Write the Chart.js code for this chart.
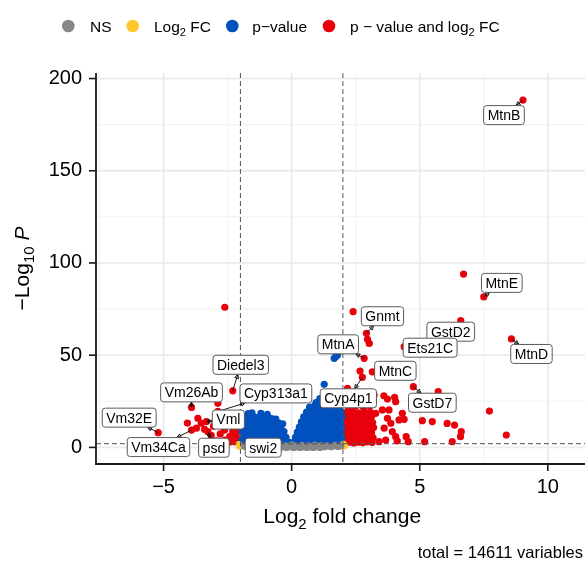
<!DOCTYPE html>
<html>
<head>
<meta charset="utf-8">
<script src="https://cdn.jsdelivr.net/npm/chart.js@4.4.0/dist/chart.umd.min.js"></script>
<style>
html, body { margin: 0; padding: 0; background: #fff; overflow: hidden; }
body { width: 585px; height: 561px; position: relative; }
#chart { position: absolute; left: 0; top: 0; }
</style>
</head>
<body>
<canvas id="chart" width="592" height="561"></canvas>
<script>
// axis ticks and cutoffs
var xTicks = [-5, 0, 5, 10];
var yTicks = [0, 50, 100, 150, 200];
var xMinor = [-7.5, -2.5, 2.5, 7.5];
var yMinor = [25, 75, 125, 175];
var fcCutoff = 2;
var pCutoff = 2;
var totalVariables = 14611;

// NS (grey)
var nsPoints = [
    [-1.85,0.6],[-1.7,1.2],[-1.55,0.4],[-1.4,1.0],[-1.25,0.5],[-1.1,1.3],[-0.95,0.3],[-0.8,0.9],
    [-0.65,0.4],[-0.5,1.1],[-0.38,0.2],[-0.25,0.8],[-0.12,0.3],[0,1.4],[0.05,0.1],[0.15,0.7],
    [0.28,0.2],[0.4,1.1],[0.52,0.4],[0.65,0.9],[0.78,0.2],[0.9,1.2],[1.02,0.5],[1.15,1.0],
    [1.28,0.3],[1.4,0.8],[1.55,0.4],[1.68,1.1],[1.8,0.5],[1.92,0.9],
    [-0.2,0],[0.1,0],[0.35,0],[0.6,0],[0.85,0],[1.1,0],[-0.6,0],[-1.0,0]
];

// Log2 FC only (yellow)
var fcPoints = [[-2.06,1.5],[-2.03,0.6],[2.02,1.6],[2.06,0.7]];

// p-value only (blue)
var pPoints = [
    [-1.92,2.8],[-1.75,3.1],[-1.58,2.6],[-1.41,3.0],[-1.24,2.7],[-1.07,3.2],[-0.9,2.6],[-0.73,3.0],[-0.56,2.7],[-0.4,3.1],[-0.25,2.6],[-0.12,2.9],
    [-1.9,5.6],[-1.72,5.3],[-1.55,5.8],[-1.38,5.4],[-1.2,5.7],[-1.03,5.3],[-0.86,5.8],[-0.69,5.4],[-0.52,5.7],[-0.36,5.2],[-0.22,5.5],
    [-1.93,8.4],[-1.76,8.1],[-1.6,8.6],[-1.43,8.2],[-1.26,8.5],[-1.09,8.0],[-0.92,8.4],[-0.75,8.1],[-0.58,8.5],[-0.42,8.0],[-0.3,8.6],
    [-1.9,11.1],[-1.73,10.8],[-1.56,11.3],[-1.39,10.9],[-1.22,11.2],[-1.05,10.7],[-0.88,11.1],[-0.71,10.8],[-0.55,11.2],[-0.42,10.6],
    [-1.88,13.9],[-1.7,13.6],[-1.53,14.1],[-1.36,13.7],[-1.19,14.0],[-1.02,13.5],[-0.85,13.9],[-0.68,13.4],[-0.5,13.2],
    [-1.82,16.4],[-1.64,16.1],[-1.47,16.6],[-1.3,16.2],[-1.12,16.5],[-0.95,15.9],[-0.78,15.6],
    [-1.7,18.3],[-1.55,18.8],[-1.2,18.4],[-0.95,17.9],[-0.62,15.4],[-0.35,12.8],[-1.97,3.1],
    [0.08,2.8],[0.25,3.1],[0.42,2.7],[0.59,3.0],[0.76,2.6],[0.93,3.1],[1.1,2.7],[1.27,3.0],[1.44,2.6],[1.61,3.1],[1.78,2.7],[1.95,3.0],
    [0.15,5.5],[0.32,5.8],[0.49,5.3],[0.66,5.7],[0.83,5.4],[1.0,5.8],[1.17,5.3],[1.34,5.6],[1.51,5.4],[1.68,5.8],[1.85,5.3],[1.96,5.6],
    [0.22,8.3],[0.39,8.0],[0.56,8.5],[0.73,8.1],[0.9,8.4],[1.07,8.0],[1.24,8.5],[1.41,8.2],[1.58,8.6],[1.75,8.1],[1.92,8.4],
    [0.3,11.0],[0.47,11.3],[0.64,10.8],[0.81,11.2],[0.98,10.9],[1.15,11.3],[1.32,10.8],[1.49,11.1],[1.66,10.7],[1.83,11.2],[1.95,10.9],
    [0.38,13.8],[0.55,13.5],[0.72,14.0],[0.89,13.6],[1.06,13.9],[1.23,13.5],[1.4,14.0],[1.57,13.7],[1.74,14.1],[1.91,13.6],
    [0.47,16.5],[0.64,16.2],[0.81,16.7],[0.98,16.3],[1.15,16.6],[1.32,16.1],[1.49,16.5],[1.66,16.2],[1.83,16.7],[1.96,16.3],
    [0.58,19.2],[0.75,18.9],[0.92,19.4],[1.09,19.0],[1.26,19.3],[1.43,18.9],[1.6,19.4],[1.77,19.0],[1.94,19.3],
    [0.7,21.9],[0.87,22.2],[1.04,21.7],[1.21,22.1],[1.38,21.8],[1.55,22.3],[1.72,21.9],[1.89,22.2],
    [0.95,24.3],[1.15,24.8],[1.35,24.4],[1.55,25.0],[1.75,24.6],[1.93,25.2],
    [1.1,26.4],[1.5,27.0],[1.85,28.4],[1.27,34.2],[1.66,48.3],[1.72,49.2],[1.79,50.1]
];

// p-value and log2 FC (red)
var bothPoints = [
    // left side
    [-5.21,8.0],[-3.91,21.7],[-4.07,13.2],[-3.66,15.8],[-3.53,13.1],[-3.72,10.4],[-3.91,9.4],[-3.4,9.8],
    [-3.33,14.0],[-3.27,8.5],[-3.14,6.6],[-2.88,19.5],[-2.88,23.9],[-2.94,16.5],[-2.79,7.3],[-2.62,9.4],
    [-2.55,12.1],[-2.49,16.6],[-2.42,13.9],[-2.42,5.8],[-2.3,11.2],[-2.3,8.5],[-2.19,8.5],[-2.16,5.8],
    [-2.16,11.2],[-2.23,14.8],[-2.1,3.2],[-2.25,3.0],[-2.45,2.6],[-2.6,4.0],[-2.7,2.8],[-2.95,3.5],
    [-2.08,17.0],[-2.3,30.7],[-2.61,76.0],[-3.05,11.5],[-2.68,14.8],
    // right side, dense part
    [2.08,2.5],[2.25,2.9],[2.42,2.4],[2.6,2.8],[2.78,2.5],[2.96,3.0],[3.14,2.6],
    [2.1,5.2],[2.28,5.6],[2.46,5.0],[2.64,5.5],[2.82,5.1],[3.0,5.6],[3.18,5.2],
    [2.05,8.0],[2.22,8.4],[2.4,7.8],[2.58,8.3],[2.76,7.9],[2.94,8.5],[3.12,8.0],
    [2.12,10.8],[2.3,11.2],[2.48,10.6],[2.66,11.1],[2.84,10.7],[3.02,11.3],[3.2,10.8],
    [2.06,13.5],[2.24,13.9],[2.42,13.3],[2.6,13.8],[2.78,13.4],[2.96,13.9],[3.16,13.5],
    [2.1,16.3],[2.3,16.7],[2.5,16.1],[2.72,16.6],[2.92,16.2],[3.12,16.8],
    [2.15,19.0],[2.38,19.4],[2.6,18.8],[2.85,19.3],[3.08,18.9],
    [2.2,22.0],[2.5,22.4],[2.8,21.8],[3.05,22.3],
    // right side, scattered
    [3.28,18.5],[3.54,20.3],[3.8,20.3],[3.74,15.8],[3.87,13.1],[3.61,10.4],[3.93,8.5],[4.06,5.8],
    [3.67,4.0],[3.41,3.1],[4.19,14.9],[4.47,5.8],[4.55,3.1],[3.74,26.2],[4.06,24.8],[4.32,18.5],
    [4.39,15.2],[5.1,14.5],[5.49,14.0],[6.07,13.0],[6.36,12.1],[6.62,8.5],
    [6.59,5.8],[6.27,3.1],[5.19,3.1],[4.12,3.5],[3.6,28.0],
    [4.02,27.2],[3.22,28.4],[4.75,32.9],[5.72,30.2],[7.72,19.7],[8.38,6.7],[2.18,32.0],[2.67,41.4],
    [2.76,38.0],[3.15,41.0],[2.92,61.9],[2.96,58.6],[3.03,56.4],[2.83,48.3],[2.4,73.6],[4.39,54.6],
    [6.6,68.7],[6.71,94.0],[7.5,81.6],[8.58,58.8],[9.03,188.3]
];

// labelled genes
var labelNames = ['MtnB','MtnE','MtnD','GstD2','Ets21C','Gnmt','MtnA','MtnC','Cyp4p1','GstD7',
                  'Diedel3','Cyp313a1','Vm26Ab','Vm32E','Vml','Vm34Ca','psd','swi2'];
var labelX = [9.03, 7.5, 8.58, 6.6, 4.39, 2.92, 2.83, 3.15, 2.76, 4.75,
              -2.3, -2.88, -3.91, -5.21, -3.33, -3.91, -3.27, -1.97];
var labelY = [188.3, 81.6, 58.8, 68.7, 54.6, 61.9, 48.3, 41.0, 38.0, 32.9,
              30.7, 19.5, 21.7, 8.0, 14.0, 9.4, 8.5, 3.1];

// where the boxes sit relative to their point (px)
var labelNudge = {
    MtnB: [-19, 15], MtnE: [18, -14], MtnD: [20, 15], GstD2: [-10, 11], Ets21C: [26, 1],
    Gnmt: [16, -17], MtnA: [-26, -14], MtnC: [23, -1], Cyp4p1: [-14, 21], GstD7: [19, 16],
    Diedel3: [8, -26], Cyp313a1: [58, -18], Vm26Ab: [0, -15], Vm32E: [-29, -15], Vml: [22, -2],
    Vm34Ca: [-33, 17], psd: [6, 16], swi2: [22, 6]
};

var FAMILY = "'Liberation Sans', Arial, Helvetica, sans-serif";
var colNS = '#878787', colFC = '#FFC72C', colP = '#0050BE', colBoth = '#E8000B';

function toXY(list) {
    return list.map(function (p) { return {x: p[0], y: p[1]}; });
}

function mk(label, list, color) {
    return {
        label: label,
        data: toXY(list),
        backgroundColor: color,
        borderWidth: 0,
        pointRadius: 3.6,
        pointHoverRadius: 3.6
    };
}

function fmt(v) {
    return String(v).replace('-', '\u2212');
}

function fontFor(p, size) {
    if (p[1] === 'sub') return Math.round(size * 0.72) + 'px ' + FAMILY;
    if (p[1] === 'it') return 'italic ' + size + 'px ' + FAMILY;
    return size + 'px ' + FAMILY;
}

// draws text with subscripts / italics
function drawRich(ctx, parts, x, y, size, align) {
    var w = parts.map(function (p) { ctx.font = fontFor(p, size); return ctx.measureText(p[0]).width; });
    var total = w.reduce(function (a, b) { return a + b; }, 0);
    var cx = align === 'center' ? x - total / 2 : (align === 'right' ? x - total : x);
    ctx.textAlign = 'left';
    ctx.textBaseline = 'alphabetic';
    parts.forEach(function (p, i) {
        ctx.font = fontFor(p, size);
        ctx.fillText(p[0], cx, p[1] === 'sub' ? y + size * 0.28 : y);
        cx += w[i];
    });
}

function line(ctx, x1, y1, x2, y2) {
    ctx.beginPath();
    ctx.moveTo(x1, y1);
    ctx.lineTo(x2, y2);
    ctx.stroke();
}

function roundBox(ctx, x, y, w, h, r) {
    ctx.beginPath();
    ctx.moveTo(x + r, y);
    ctx.arcTo(x + w, y, x + w, y + h, r);
    ctx.arcTo(x + w, y + h, x, y + h, r);
    ctx.arcTo(x, y + h, x, y, r);
    ctx.arcTo(x, y, x + w, y, r);
    ctx.closePath();
}

var volcanoPlugin = {
    id: 'volcano',
    beforeDatasetsDraw: function (chart) {
        var ctx = chart.ctx, a = chart.chartArea, sx = chart.scales.x, sy = chart.scales.y;
        ctx.save();
        ctx.strokeStyle = '#EFEFEF';
        ctx.lineWidth = 0.9;
        xMinor.forEach(function (v) { var p = sx.getPixelForValue(v); line(ctx, p, a.top, p, a.bottom); });
        yMinor.forEach(function (v) { var p = sy.getPixelForValue(v); line(ctx, a.left, p, a.right, p); });
        ctx.strokeStyle = '#EBEBEB';
        ctx.lineWidth = 1.8;
        xTicks.forEach(function (v) { var p = sx.getPixelForValue(v); line(ctx, p, a.top, p, a.bottom); });
        yTicks.forEach(function (v) { var p = sy.getPixelForValue(v); line(ctx, a.left, p, a.right, p); });
        ctx.restore();
    },
    afterDatasetsDraw: function (chart) {
        var ctx = chart.ctx, a = chart.chartArea, sx = chart.scales.x, sy = chart.scales.y;
        ctx.save();

        // cutoff lines
        ctx.strokeStyle = '#555';
        ctx.lineWidth = 1;
        ctx.setLineDash([5, 3]);
        [-fcCutoff, fcCutoff].forEach(function (v) { var p = sx.getPixelForValue(v); line(ctx, p, a.top, p, a.bottom); });
        var hp = sy.getPixelForValue(pCutoff);
        line(ctx, a.left, hp, a.right, hp);
        ctx.setLineDash([]);

        // axis lines + ticks
        ctx.strokeStyle = '#1a1a1a';
        ctx.lineWidth = 1.8;
        line(ctx, a.left, a.top, a.left, a.bottom + 0.9);
        line(ctx, a.left - 0.9, a.bottom, a.right, a.bottom);
        ctx.lineWidth = 1.6;
        xTicks.forEach(function (v) { var p = sx.getPixelForValue(v); line(ctx, p, a.bottom, p, a.bottom + 7); });
        yTicks.forEach(function (v) { var p = sy.getPixelForValue(v); line(ctx, a.left - 7, p, a.left, p); });

        // labels
        ctx.font = '14px ' + FAMILY;
        labelNames.forEach(function (name, i) {
            var px = sx.getPixelForValue(labelX[i]), py = sy.getPixelForValue(labelY[i]);
            var n = labelNudge[name] || [0, 0];
            var cx = px + n[0], cy = py + n[1];
            ctx.font = '14px ' + FAMILY;
            var w = ctx.measureText(name).width + 8, h = 19;
            var dx = px - cx, dy = py - cy;
            var s = Math.min(dx !== 0 ? (w / 2) / Math.abs(dx) : Infinity, dy !== 0 ? (h / 2) / Math.abs(dy) : Infinity);
            if (s < 1) {
                var ex = cx + dx * s, ey = cy + dy * s;
                var len = Math.hypot(px - ex, py - ey);
                if (len > 5) {
                    ctx.strokeStyle = '#000';
                    ctx.lineWidth = 0.9;
                    line(ctx, px, py, ex, ey);
                    var ux = (ex - px) / len, uy = (ey - py) / len;
                    ctx.beginPath();
                    ctx.moveTo(ex, ey);
                    ctx.lineTo(ex - ux * 4 - uy * 2, ey - uy * 4 + ux * 2);
                    ctx.lineTo(ex - ux * 4 + uy * 2, ey - uy * 4 - ux * 2);
                    ctx.closePath();
                    ctx.stroke();
                }
            }
            roundBox(ctx, cx - w / 2, cy - h / 2, w, h, 3);
            ctx.fillStyle = '#fff';
            ctx.fill();
            ctx.strokeStyle = '#5a5a5a';
            ctx.lineWidth = 1;
            ctx.stroke();
            ctx.fillStyle = '#000';
            ctx.textAlign = 'center';
            ctx.textBaseline = 'middle';
            ctx.fillText(name, cx, cy + 1);
        });
        ctx.restore();
    },
    afterDraw: function (chart) {
        var ctx = chart.ctx, a = chart.chartArea;
        ctx.save();
        ctx.fillStyle = '#000';

        // legend
        var items = [
            {c: colNS, x: 68.3, tx: 90, parts: [['NS', 'n']]},
            {c: colFC, x: 132.7, tx: 154, parts: [['Log', 'n'], ['2', 'sub'], [' FC', 'n']]},
            {c: colP, x: 232.3, tx: 252.3, parts: [['p\u2212value', 'n']]},
            {c: colBoth, x: 329, tx: 350, parts: [['p \u2212 value and log', 'n'], ['2', 'sub'], [' FC', 'n']]}
        ];
        items.forEach(function (it) {
            ctx.fillStyle = it.c;
            ctx.beginPath();
            ctx.arc(it.x, 26, 6.3, 0, Math.PI * 2);
            ctx.fill();
            ctx.fillStyle = '#000';
            drawRich(ctx, it.parts, it.tx, 32, 15.5, 'left');
        });

        // axis titles
        drawRich(ctx, [['Log', 'n'], ['2', 'sub'], [' fold change', 'n']], (a.left + a.right) / 2, 523, 21, 'center');
        ctx.save();
        ctx.translate(28.5, (a.top + a.bottom) / 2);
        ctx.rotate(-Math.PI / 2);
        drawRich(ctx, [['\u2212Log', 'n'], ['10', 'sub'], [' ', 'n'], ['P', 'it']], 0, 0, 21, 'center');
        ctx.restore();

        // caption
        drawRich(ctx, [['total = ' + totalVariables + ' variables', 'n']], 583, 558, 16.5, 'right');
        ctx.restore();
    }
};

Chart.defaults.font.family = FAMILY;

new Chart(document.getElementById('chart'), {
    type: 'scatter',
    data: {
        datasets: [
            mk('NS', nsPoints, colNS),
            mk('Log2 FC', fcPoints, colFC),
            mk('p-value', pPoints, colP),
            mk('p-value and log2 FC', bothPoints, colBoth)
        ]
    },
    options: {
        responsive: false,
        animation: false,
        devicePixelRatio: 1,
        layout: {padding: {top: 73, right: 2, bottom: 0, left: 0}},
        plugins: {legend: {display: false}, tooltip: {enabled: false}},
        scales: {
            x: {
                type: 'linear',
                min: -7.638,
                max: 11.584,
                grid: {display: false, drawTicks: false},
                border: {display: false},
                afterBuildTicks: function (s) { s.ticks = xTicks.map(function (v) { return {value: v}; }); },
                afterFit: function (s) { s.height = 97; },
                ticks: {padding: 11, color: '#000', font: {size: 20}, maxRotation: 0, callback: function (v) { return fmt(v); }}
            },
            y: {
                type: 'linear',
                min: -9.0,
                max: 203.0,
                grid: {display: false, drawTicks: false},
                border: {display: false},
                afterBuildTicks: function (s) { s.ticks = yTicks.map(function (v) { return {value: v}; }); },
                afterFit: function (s) { s.width = 96; },
                ticks: {padding: 14, color: '#000', font: {size: 20}, callback: function (v) { return fmt(v); }}
            }
        }
    },
    plugins: [volcanoPlugin]
});
</script>
</body>
</html>
